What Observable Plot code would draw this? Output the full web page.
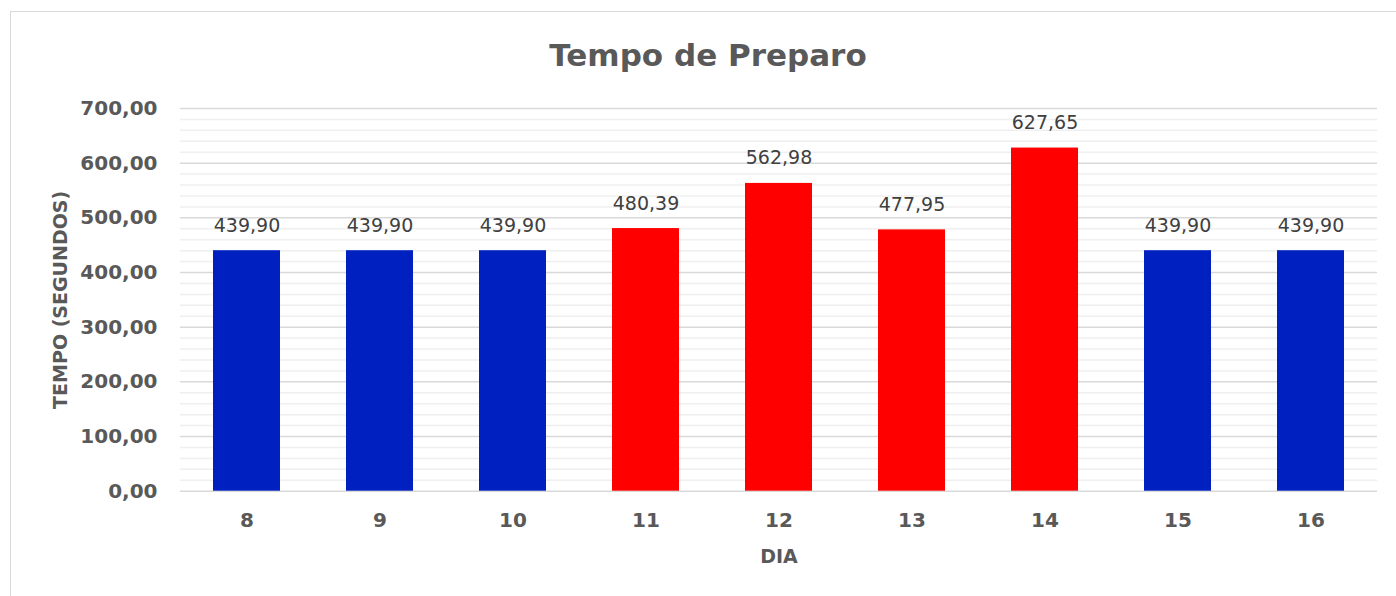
<!DOCTYPE html>
<html>
<head>
<meta charset="utf-8">
<script src="https://cdn.jsdelivr.net/npm/d3@7"></script>
<script src="https://cdn.jsdelivr.net/npm/@observablehq/plot@0.6"></script>
<style>
  html, body { margin: 0; padding: 0; background: #fff; width: 1396px; height: 596px; overflow: hidden; position: relative; }
  #frame { position: absolute; left: 10px; top: 11px; width: 1500px; height: 800px; border: 1.5px solid #d9d9d9; box-sizing: border-box; }
  #title { position: absolute; left: 10px; top: 0; width: 1396px; height: 90px; text-align: center; font-family: "DejaVu Sans", sans-serif; font-weight: bold; font-size: 31px; color: #595959; line-height: 110px; }
  #chart { position: absolute; left: 0; top: 90px; }
</style>
</head>
<body>
<div id="frame"></div>
<div id="title">Tempo de Preparo</div>
<div id="chart"></div>
<script>
const dias = ["8", "9", "10", "11", "12", "13", "14", "15", "16"];
const tempos = [439.90, 439.90, 439.90, 480.39, 562.98, 477.95, 627.65, 439.90, 439.90];
const grupos = ["azul", "azul", "azul", "vermelho", "vermelho", "vermelho", "vermelho", "azul", "azul"];
const yTicks = [0, 100, 200, 300, 400, 500, 600, 700];
const yMinorTicks = d3.range(0, 701, 20).filter(v => v % 100 !== 0);

const data = dias.map((d, i) => ({dia: d, tempo: tempos[i], grupo: grupos[i]}));
const fmt = d3.formatLocale({decimal: ",", thousands: ".", grouping: [3], currency: ["", ""]}).format(",.2f");

const chart = Plot.plot({
  width: 1396,
  height: 506,
  marginTop: 18,
  marginBottom: 105.3,
  marginLeft: 180,
  marginRight: 19,
  style: {fontFamily: "DejaVu Sans, sans-serif", background: "transparent"},
  x: {domain: dias, paddingInner: 0.5, paddingOuter: 0.25, label: null},
  y: {domain: [0, 700], label: null},
  color: {domain: ["azul", "vermelho"], range: ["#0020c0", "#ff0000"]},
  marks: [
    Plot.gridY(yMinorTicks, {stroke: "#efefef", strokeOpacity: 1, strokeWidth: 1.5}),
    Plot.gridY(yTicks, {stroke: "#d9d9d9", strokeOpacity: 1, strokeWidth: 1.5}),
    Plot.barY(data, {x: "dia", y: "tempo", fill: "grupo"}),
    Plot.text(data, {x: "dia", y: "tempo", text: d => fmt(d.tempo), lineAnchor: "bottom", dy: -19, fontSize: 19, fill: "#404040"}),
    Plot.axisY(yTicks, {tickSize: 0, tickPadding: 23, tickFormat: fmt, fontSize: 20, fontWeight: "bold", fill: "#595959", label: null}),
    Plot.axisX({tickSize: 0, tickPadding: 22, fontSize: 20, fontWeight: "bold", fill: "#595959", label: null}),
    Plot.text(["TEMPO (SEGUNDOS)"], {frameAnchor: "left", textAnchor: "middle", dx: -120, rotate: -90, fontSize: 19, fontWeight: "bold", fill: "#595959"}),
    Plot.text(["DIA"], {frameAnchor: "bottom", dy: 72, fontSize: 19, fontWeight: "bold", fill: "#595959"})
  ]
});
document.getElementById("chart").appendChild(chart);
</script>
</body>
</html>
